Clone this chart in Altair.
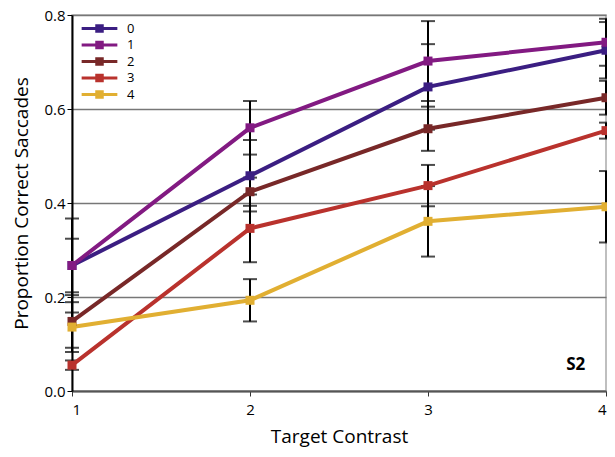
import altair as alt
import pandas as pd

contrast = [1, 2, 3, 4]
series_names = ["0", "1", "2", "3", "4"]
values = {
    "0": [0.267, 0.458, 0.647, 0.725],
    "1": [0.267, 0.560, 0.702, 0.742],
    "2": [0.148, 0.424, 0.558, 0.624],
    "3": [0.055, 0.346, 0.437, 0.554],
    "4": [0.136, 0.193, 0.361, 0.392],
}
errors = {
    "0": [0.057, 0.076, 0.091, 0.060],
    "1": [0.100, 0.057, 0.085, 0.050],
    "2": [0.056, 0.030, 0.047, 0.036],
    "3": [0.010, 0.072, 0.044, 0.017],
    "4": [0.053, 0.045, 0.075, 0.076],
}
colors = ["#3B1E82", "#821A82", "#782828", "#B9322D", "#E1AF32"]
y_ticks = [0.0, 0.2, 0.4, 0.6, 0.8]
annotation = [{"x": 3.83, "y": 0.055, "label": "S2"}]

rows = []
for s in series_names:
    for c, v, e in zip(contrast, values[s], errors[s]):
        rows.append({"contrast": c, "prop": v, "lo": v - e, "hi": v + e, "series": s})
df = pd.DataFrame(rows)

FONT = "Open Sans"
Y_TITLE = "Proportion Correct Saccades"
xscale = alt.Scale(domain=[1, 4], nice=False, zero=False)
yscale = alt.Scale(domain=[0, 0.8], nice=False)
color = alt.Color(
    "series:N",
    scale=alt.Scale(domain=series_names, range=colors),
    legend=alt.Legend(
        title=None,
        orient="none",
        legendX=19,
        legendY=5,
        padding=0,
        symbolType="M-2.1,-0.17H2.1V0.17H-2.1Z M-0.5,-0.5H0.5V0.5H-0.5Z",
        symbolSize=289,
        symbolStrokeWidth=0,
        labelFont=FONT,
        labelFontSize=13,
        labelColor="black",
        labelOffset=19,
        rowPadding=0.5,
    ),
)

base = alt.Chart(df)

err = base.mark_errorbar(
    ticks=alt.TickConfig(size=14, thickness=2, color="black"),
    thickness=2,
    color="black",
).encode(
    x=alt.X("contrast:Q", scale=xscale, title="Target Contrast"),
    y=alt.Y("lo:Q", scale=yscale, title=Y_TITLE),
    y2="hi:Q",
    detail="series:N",
)

lines = base.mark_line(strokeWidth=4).encode(
    x=alt.X(
        "contrast:Q",
        scale=xscale,
        axis=alt.Axis(
            values=contrast,
            format="d",
            title="Target Contrast",
            grid=False,
            domainColor="#555555",
            domainWidth=2,
            tickColor="#333333",
            tickSize=5,
            labelPadding=6,
            titlePadding=10,
        ),
    ),
    y=alt.Y(
        "prop:Q",
        scale=yscale,
        axis=alt.Axis(
            values=y_ticks,
            format=".1f",
            title=Y_TITLE,
            grid=True,
            gridColor="#777777",
            gridWidth=1.5,
            domainColor="black",
            domainWidth=2,
            tickColor="black",
            tickSize=5,
            labelPadding=2,
            titlePadding=12,
        ),
    ),
    color=color,
)

points = base.mark_point(shape="square", filled=True, size=81, opacity=1).encode(
    x=alt.X("contrast:Q", scale=xscale),
    y=alt.Y("prop:Q", scale=yscale),
    color=alt.Color("series:N", scale=alt.Scale(domain=series_names, range=colors), legend=None),
)

text = alt.Chart(pd.DataFrame(annotation)).mark_text(
    font=FONT, fontSize=17, fontWeight="bold", color="black", align="center"
).encode(
    x=alt.X("x:Q", scale=xscale),
    y=alt.Y("y:Q", scale=yscale),
    text="label:N",
)

chart = (
    alt.layer(err, lines, points, text)
    .properties(
        width=534,
        height=376,
        autosize=alt.AutoSizeParams(type="none"),
        padding={"left": 64, "top": 7, "right": 1, "bottom": 58},
    )
    .configure_view(stroke="#aaaaaa", strokeWidth=1.5)
    .configure_axis(
        labelFont=FONT,
        labelFontSize=15,
        labelColor="black",
        titleFont=FONT,
        titleFontSize=19,
        titleFontWeight="normal",
        titleColor="black",
    )
)

chart.save("out.html", embed_options={"renderer": "svg", "actions": False})
